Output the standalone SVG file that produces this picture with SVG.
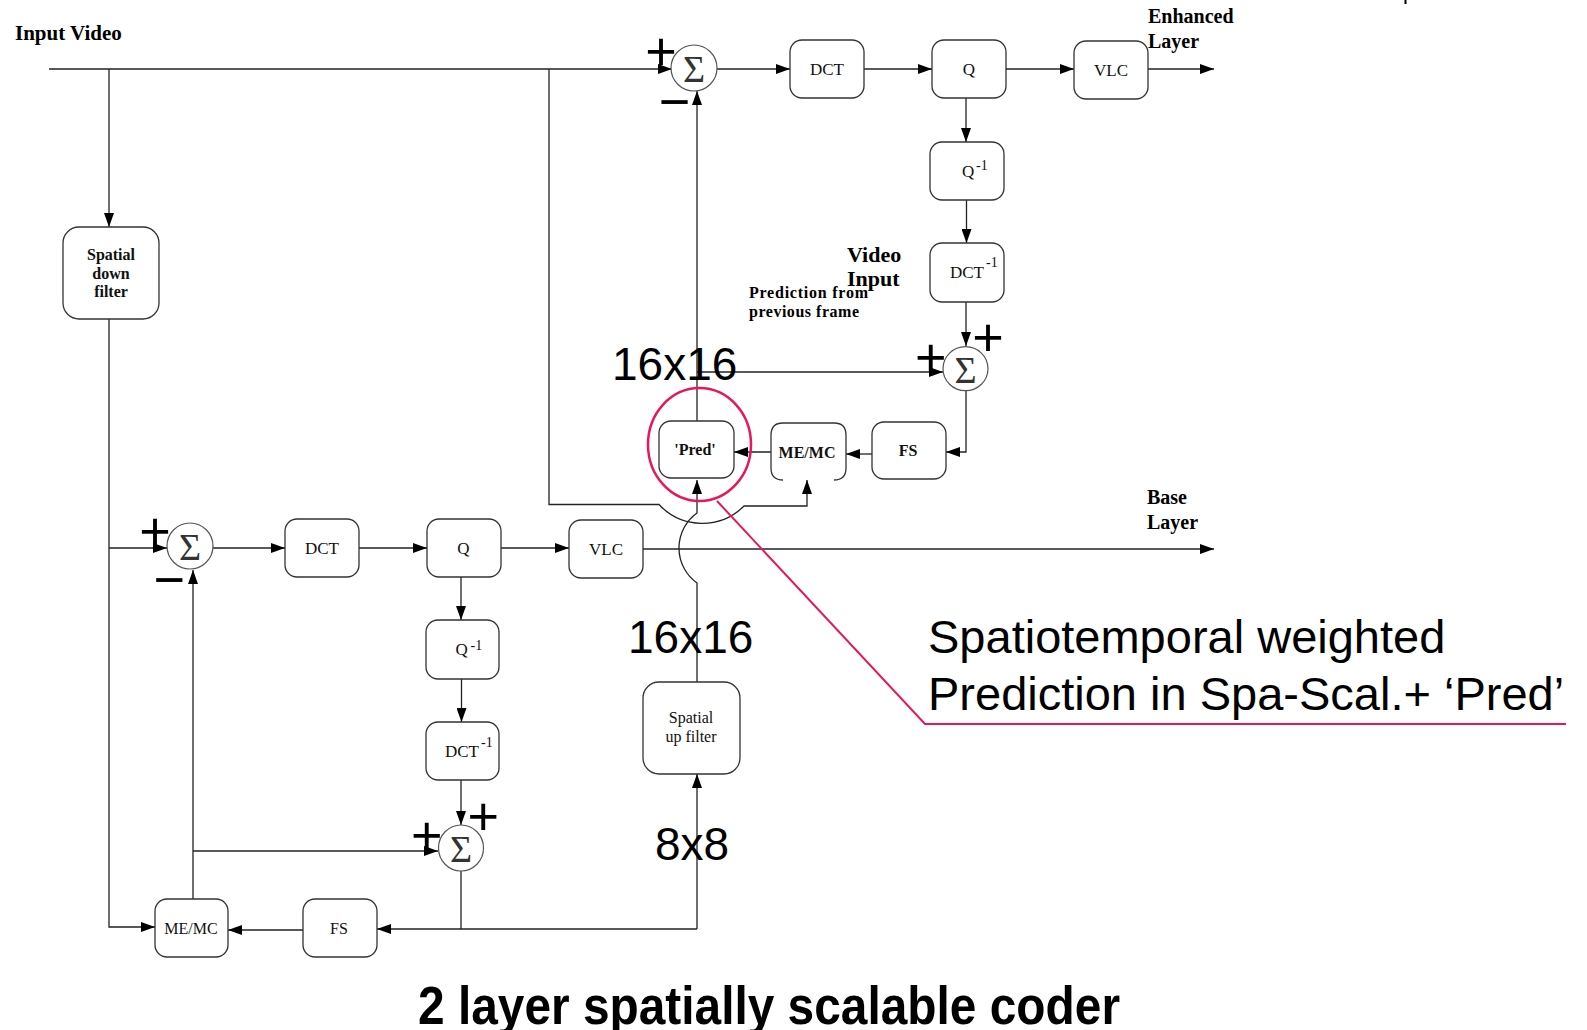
<svg xmlns="http://www.w3.org/2000/svg" width="1587" height="1030" viewBox="0 0 1587 1030">
<defs>
<marker id="ah" markerUnits="userSpaceOnUse" markerWidth="14" markerHeight="10" refX="14" refY="5" orient="auto"><path d="M0,0 L14,5 L0,10 z" fill="#000"/></marker>
</defs>
<style>
.box{fill:#fff;stroke:#333;stroke-width:1.3}
.sum{fill:#fff;stroke:#555;stroke-width:1.2}
.ln{fill:none;stroke:#222;stroke-width:1.3}
.arr{marker-end:url(#ah)}
.lbl{font-family:"Liberation Serif",serif;font-size:17px;fill:#111;text-anchor:middle}
.b{font-weight:bold}
.sup{font-family:"Liberation Serif",serif;font-size:14px;fill:#111}
.sig{font-family:"Liberation Serif",serif;font-size:38px;fill:#333;text-anchor:middle}
.pm{font-family:"Liberation Sans",Arial,sans-serif;font-size:54px;fill:#000;text-anchor:middle}
.big{font-family:"Liberation Sans",Arial,sans-serif;font-size:46px;fill:#000}
.hd{font-family:"Liberation Serif",serif;font-weight:bold;font-size:20px;fill:#000}
.red{fill:none;stroke:#e8175d;stroke-width:2.5}
</style>
<rect width="1587" height="1030" fill="#fff"/>

<g id="connectors">
<path class="ln arr" d="M49,69 H672"/>
<path class="ln arr" d="M109,69 V227"/>
<path class="ln arr" d="M109,319 V927 H155"/>
<path class="ln arr" d="M109,548 H167"/>
<path class="ln arr" d="M549,69 V504.5 H659 A59,59 0 0 0 744,506 H807 V480"/>
<path class="ln arr" d="M697,682 V583 A43,43 0 0 1 697,513 V480"/>
<path class="ln arr" d="M697,421 V91"/>
<path class="ln arr" d="M697,372 H943"/>
<path class="ln arr" d="M717,69 H790"/>
<path class="ln arr" d="M864,69 H932"/>
<path class="ln arr" d="M1006,69 H1074"/>
<path class="ln arr" d="M1148,69 H1214"/>
<path class="ln arr" d="M966,98 V142"/>
<path class="ln arr" d="M966.5,200 V243"/>
<path class="ln arr" d="M966,302 V346"/>
<path class="ln arr" d="M966,391 V452 H946"/>
<path class="ln arr" d="M872,454 H846"/>
<path class="ln arr" d="M771,452 H734"/>
<path class="ln arr" d="M213,548 H285"/>
<path class="ln arr" d="M359,548 H427"/>
<path class="ln arr" d="M501,548 H569"/>
<path class="ln arr" d="M643,549 H1214"/>
<path class="ln arr" d="M461,577 V620"/>
<path class="ln arr" d="M461.5,679 V722"/>
<path class="ln arr" d="M461,780 V825"/>
<path class="ln" d="M461,871 V929"/>
<path class="ln arr" d="M697,929 H377"/>
<path class="ln arr" d="M697,929 V774"/>
<path class="ln arr" d="M303,930 H228"/>
<path class="ln arr" d="M193,899 V570"/>
<path class="ln arr" d="M193,851 H438"/>
<line x1="1405.5" y1="0" x2="1405.5" y2="4" stroke="#000" stroke-width="2"/>
</g>

<g id="spatial-down-filter">
<rect class="box" x="63" y="227" width="96" height="92" rx="16"/>
<text class="lbl b" style="font-size:16px" x="111" y="260">Spatial</text>
<text class="lbl b" style="font-size:16px" x="111" y="279">down</text>
<text class="lbl b" style="font-size:16px" x="111" y="297">filter</text>
</g>

<g id="sum-enh">
<ellipse class="sum" cx="694" cy="68" rx="23" ry="23"/>
<text class="sig" x="694" y="82">Σ</text>
<text class="pm" x="661" y="70">+</text>
<text class="pm" x="674.5" y="119.5">−</text>
</g>
<g id="dct-enh"><rect class="box" x="790" y="40" width="74" height="58" rx="12"/><text class="lbl" x="827" y="75">DCT</text></g>
<g id="q-enh"><rect class="box" x="932" y="40" width="74" height="58" rx="12"/><text class="lbl" x="969" y="75">Q</text></g>
<g id="vlc-enh"><rect class="box" x="1074" y="41" width="74" height="58" rx="12"/><text class="lbl" x="1111" y="76">VLC</text></g>
<g id="iq-enh"><rect class="box" x="930" y="142" width="74" height="58" rx="12"/><text class="lbl" style="text-anchor:start" x="962" y="177">Q</text><text class="sup" x="976" y="170">-1</text></g>
<g id="idct-enh"><rect class="box" x="930" y="243" width="74" height="59" rx="12"/><text class="lbl" style="text-anchor:start" x="950" y="278">DCT</text><text class="sup" x="986" y="266.5">-1</text></g>
<g id="sum-enh-rec">
<ellipse class="sum" cx="965.5" cy="368.7" rx="22.5" ry="22"/>
<text class="sig" x="965.5" y="383">Σ</text>
<text class="pm" x="988" y="355.5">+</text>
<text class="pm" x="930.7" y="376">+</text>
</g>
<g id="fs-enh"><rect class="box" x="872" y="422" width="74" height="57" rx="12"/><text class="lbl b" style="font-size:16px" x="908" y="456">FS</text></g>
<g id="memc-enh"><path class="box" d="M783,480 Q771,480 771,468 L771,435 Q771,423 783,423 L834,423 Q846,423 846,435 L846,468 Q846,480 834,480" style="fill:#fff"/><text class="lbl b" style="font-size:16px" x="807" y="458">ME/MC</text></g>
<g id="pred"><rect class="box" x="659" y="421" width="75" height="57" rx="12"/><text class="lbl b" style="font-size:16px" x="695" y="455">'Pred'</text></g>

<g id="sum-base">
<ellipse class="sum" cx="190" cy="546" rx="23" ry="23"/>
<text class="sig" x="190" y="560">Σ</text>
<text class="pm" x="155" y="549.5">+</text>
<text class="pm" x="169.3" y="598">−</text>
</g>
<g id="dct-base"><rect class="box" x="285" y="519" width="74" height="58" rx="12"/><text class="lbl" x="322" y="554">DCT</text></g>
<g id="q-base"><rect class="box" x="427" y="519" width="74" height="58" rx="12"/><text class="lbl" x="463.5" y="554">Q</text></g>
<g id="vlc-base"><rect class="box" x="569" y="520" width="74" height="58" rx="12"/><text class="lbl" x="606" y="555">VLC</text></g>
<g id="iq-base"><rect class="box" x="426" y="620" width="73" height="59" rx="12"/><text class="lbl" style="text-anchor:start" x="455.5" y="655">Q</text><text class="sup" x="470.5" y="649.5">-1</text></g>
<g id="idct-base"><rect class="box" x="426" y="722" width="73" height="58" rx="12"/><text class="lbl" style="text-anchor:start" x="445" y="757">DCT</text><text class="sup" x="481" y="746.5">-1</text></g>
<g id="sum-base-rec">
<ellipse class="sum" cx="461" cy="848" rx="22.5" ry="23"/>
<text class="sig" x="461" y="862">Σ</text>
<text class="pm" x="483.3" y="835">+</text>
<text class="pm" x="426.7" y="854">+</text>
</g>
<g id="memc-base"><rect class="box" x="155" y="899" width="73" height="58" rx="12"/><text class="lbl" style="font-size:16px" x="191" y="934">ME/MC</text></g>
<g id="fs-base"><rect class="box" x="303" y="899" width="74" height="58" rx="12"/><text class="lbl" style="font-size:16px" x="339" y="934">FS</text></g>
<g id="spatial-up-filter"><rect class="box" x="643" y="682" width="97" height="92" rx="16"/><text class="lbl" style="font-size:16px" x="691" y="722.5">Spatial</text><text class="lbl" style="font-size:16px" x="691" y="741.5">up filter</text></g>

<g id="labels">
<text class="hd" style="font-size:21px" x="15" y="40">Input Video</text>
<text class="hd" x="1148" y="23">Enhanced</text>
<text class="hd" x="1148" y="48">Layer</text>
<text class="hd" x="1147" y="504">Base</text>
<text class="hd" x="1147" y="529">Layer</text>
<text class="hd" style="font-size:22px" x="847" y="262">Video</text>
<text class="hd" style="font-size:22px" x="847" y="286">Input</text>
<text class="hd" style="font-size:16px" x="749" y="298" textLength="119">Prediction from</text>
<text class="hd" style="font-size:16px" x="749" y="316.5" textLength="110">previous frame</text>
<text class="big" x="612" y="380">16x16</text>
<text class="big" x="628" y="653">16x16</text>
<text class="big" x="655" y="860">8x8</text>
</g>

<g id="callout">
<ellipse class="red" cx="699.5" cy="444.5" rx="51.5" ry="56.5"/>
<polyline class="red" style="stroke-width:2" points="717,501 925,724 1566,724"/>
<text class="big" style="font-size:47px" x="928" y="653">Spatiotemporal weighted</text>
<text class="big" style="font-size:47px" x="928" y="710">Prediction in Spa-Scal.+ ‘Pred’</text>
</g>

<text id="title" x="418" y="1024" textLength="702" lengthAdjust="spacingAndGlyphs" style="font-family:'Liberation Sans',Arial,sans-serif;font-weight:bold;font-size:53px;fill:#000">2 layer spatially scalable coder</text>
</svg>
